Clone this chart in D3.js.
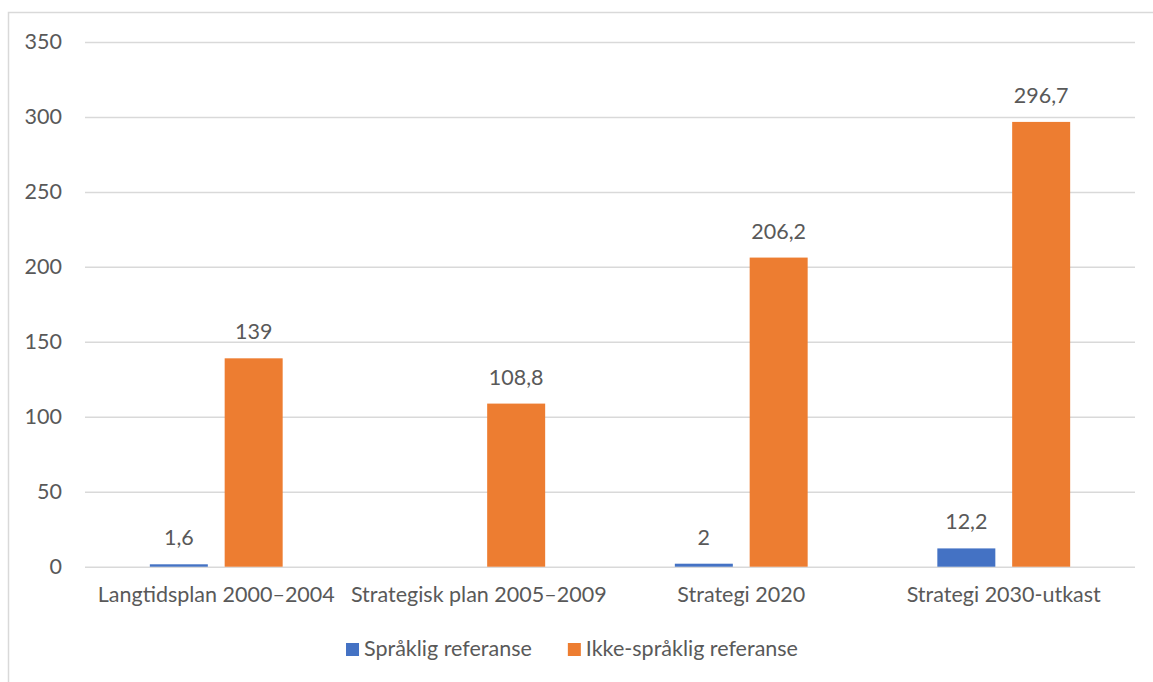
<!DOCTYPE html>
<html>
<head>
<meta charset="utf-8">
<script src="https://cdn.jsdelivr.net/npm/d3@7"></script>
<style>
  body { margin: 0; background: #fff; }
  text { font-family: Lato, "Open Sans", sans-serif; fill: #595959; }
</style>
</head>
<body>
<svg id="chart"></svg>
<script>
// data
const categories = ["Langtidsplan 2000–2004", "Strategisk plan 2005–2009", "Strategi 2020", "Strategi 2030-utkast"]
const seriesNames = ["Språklig referanse", "Ikke-språklig referanse"]
const sprakligValues = [1.6, null, 2, 12.2]
const ikkeSprakligValues = [139, 108.8, 206.2, 296.7]
const yTicks = [0, 50, 100, 150, 200, 250, 300, 350]
const colors = ["#4472C4", "#ED7D31"]

const width = 1153
const height = 682
const margin = ({top: 42, right: 17, bottom: 115, left: 85})
const fontSize = 21.5

const svg = d3.select("#chart")
    .attr("width", width)
    .attr("height", height)

// chart frame (right and bottom edges sit outside the picture)
svg.append("rect")
    .attr("x", 8.5).attr("y", 12.5)
    .attr("width", width + 20).attr("height", height + 20)
    .attr("fill", "none")
    .attr("stroke", "#d9d9d9")
    .attr("stroke-width", 1.5)

const rows = categories.map((c, i) => ({
    cat: c,
    values: [sprakligValues[i], ikkeSprakligValues[i]]
}))

const x0 = d3.scaleBand()
    .domain(categories)
    .range([margin.left, width - margin.right - 1])
    .paddingInner(0.494)
    .paddingOuter(0.247)

const x1 = d3.scaleBand()
    .domain(seriesNames)
    .range([0, x0.bandwidth()])
    .paddingInner(0.225)

const y = d3.scaleLinear()
    .domain([0, 350])
    .range([height - margin.bottom - 0.3, margin.top])

// gridlines + y labels
const yAxis = g => g
    .attr("transform", `translate(${margin.left},0)`)
    .call(d3.axisLeft(y).tickValues(yTicks).tickSize(0).tickPadding(23))
    .call(g => g.select(".domain").remove())
    .call(g => g.selectAll(".tick line").clone()
        .attr("stroke", "#d9d9d9")
        .attr("stroke-width", 1.5)
        .attr("x2", width - margin.left - margin.right - 1))
    .call(g => g.selectAll(".tick text")
        .attr("font-size", fontSize)
        .attr("font-family", null)
        .attr("fill", null))

svg.append("g").call(yAxis)

const xAxis = g => g
    .attr("transform", `translate(0,${height - margin.bottom})`)
    .call(d3.axisBottom(x0).tickSize(0).tickPadding(20))
    .call(g => g.select(".domain").remove())
    .call(g => g.selectAll(".tick text")
        .attr("font-size", fontSize)
        .attr("font-family", null)
        .attr("fill", null))

svg.append("g").call(xAxis)

const groups = svg.append("g")
    .selectAll("g")
    .data(rows)
    .join("g")
    .attr("transform", d => `translate(${x0(d.cat)},0)`)

const items = d => d.values
    .map((v, i) => ({name: seriesNames[i], value: v, color: colors[i]}))
    .filter(e => e.value != null)

groups.selectAll("rect")
    .data(items)
    .join("rect")
    .attr("x", e => x1(e.name))
    .attr("width", x1.bandwidth())
    .attr("y", e => y(e.value))
    .attr("height", e => y(0) - y(e.value))
    .attr("fill", e => e.color)

const fmt = v => String(v).replace(".", ",")

groups.selectAll("text.val")
    .data(items)
    .join("text")
    .attr("class", "val")
    .attr("x", e => x1(e.name) + x1.bandwidth() / 2)
    .attr("y", e => y(e.value) - 19)
    .attr("text-anchor", "middle")
    .attr("font-size", fontSize)
    .text(e => fmt(e.value))

// legend
const legend = svg.append("g")
    .attr("transform", `translate(0,${height - 26})`)

const legendItems = legend.selectAll("g")
    .data(seriesNames)
    .join("g")

legendItems.append("rect")
    .attr("width", 13)
    .attr("height", 13)
    .attr("y", -13)
    .attr("fill", (d, i) => colors[i])

legendItems.append("text")
    .attr("x", 18)
    .attr("font-size", fontSize)
    .text(d => d)

// lay items side by side, centred in the chart frame
let offsets = []
let total = 0
legendItems.each(function (d, i) {
    const w = 18 + this.querySelector("text").getComputedTextLength()
    offsets.push(total)
    total += w + (i < seriesNames.length - 1 ? 36 : 0)
})
const start = (8 + width - margin.right) / 2 - total / 2
legendItems.attr("transform", (d, i) => `translate(${start + offsets[i]},0)`)
</script>
</body>
</html>
